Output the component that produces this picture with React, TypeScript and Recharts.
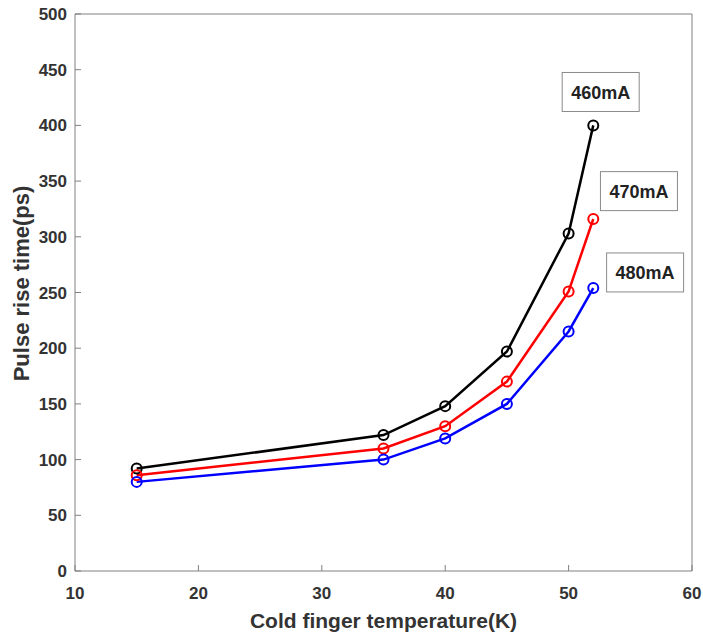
import React from 'react';
import { LineChart, Line, XAxis, YAxis, ReferenceDot } from 'recharts';

// cold finger temperature (K) and pulse rise time (ps) per bias current
const temps = [15, 35, 40, 45, 50, 52];
const rise460 = [92, 122, 148, 197, 303, 400];
const rise470 = [86, 110, 130, 170, 251, 316];
const rise480 = [80, 100, 119, 150, 215, 254];

const xTicks = [10, 20, 30, 40, 50, 60];
const yTicks = [0, 50, 100, 150, 200, 250, 300, 350, 400, 450, 500];

// current tags, anchored in data coordinates
const tagNames = ['460mA', '470mA', '480mA'];
const tagX = [52.6, 55.7, 56.2];
const tagY = [430, 341, 268];

const data = temps.map((t, i) => ({
	t,
	a: rise460[i],
	b: rise470[i],
	c: rise480[i],
}));

const FONT = '"Liberation Sans", Arial, sans-serif';
const AXIS = '#808080';
const INK = '#333333';

const tickStyle = { fontFamily: FONT, fontSize: 17, fontWeight: 700, fill: INK };

const TagBox = (props: any) => {
	const { cx, cy, value } = props;
	const w = 77;
	const h = 39;
	return (
		<g>
			<rect x={cx - w / 2} y={cy - h / 2} width={w} height={h} fill="#fff" stroke="#8a8a8a" strokeWidth={1} />
			<text
				x={cx}
				y={cy + 1}
				textAnchor="middle"
				dominantBaseline="central"
				fontFamily={FONT}
				fontSize={18}
				fontWeight={700}
				fill="#222"
			>
				{value}
			</text>
		</g>
	);
};

const YLabel = (props: any) => {
	const vb = props.viewBox || {};
	const cy = vb.y + vb.height / 2 - 9;
	return (
		<text
			x={21}
			y={cy}
			transform={`rotate(-90, 21, ${cy})`}
			textAnchor="middle"
			dominantBaseline="central"
			fontFamily={FONT}
			fontSize={22}
			fontWeight={700}
			fill={INK}
		>
			Pulse rise time(ps)
		</text>
	);
};

const series = [
	{ key: 'a', color: '#000000' },
	{ key: 'b', color: '#ff0000' },
	{ key: 'c', color: '#0000ff' },
];

export default function App() {
	return (
		<div style={{ position: 'absolute', left: 0, top: 0, background: '#fff' }}>
			<LineChart width={703} height={634} data={data} margin={{ top: 13, right: 10, bottom: 23, left: 0 }}>
				<XAxis
					dataKey="t"
					type="number"
					domain={[10, 60]}
					ticks={xTicks}
					allowDataOverflow
					height={40}
					tickSize={-6}
					tickMargin={22}
					stroke={AXIS}
					tick={tickStyle}
					label={{
						value: 'Cold finger temperature(K)',
						position: 'bottom',
						offset: 2,
						style: { fontFamily: FONT, fontSize: 21, fontWeight: 700, fill: INK },
					}}
				/>
				<XAxis
					xAxisId="top"
					orientation="top"
					dataKey="t"
					type="number"
					domain={[10, 60]}
					ticks={xTicks}
					height={1}
					tickSize={-6}
					stroke={AXIS}
					tick={false}
				/>
				<YAxis
					type="number"
					domain={[0, 500]}
					ticks={yTicks}
					allowDataOverflow
					width={75}
					tickSize={-6}
					tickMargin={14}
					stroke={AXIS}
					tick={tickStyle}
					label={{ content: YLabel }}
				/>
				<YAxis
					yAxisId="right"
					orientation="right"
					type="number"
					domain={[0, 500]}
					ticks={yTicks}
					width={1}
					tickSize={-6}
					stroke={AXIS}
					tick={false}
				/>
				{series.map((s) => (
					<Line
						key={s.key}
						dataKey={s.key}
						stroke={s.color}
						strokeWidth={2.5}
						dot={{ r: 5, fill: 'none', stroke: s.color, strokeWidth: 2 }}
						activeDot={false}
						isAnimationActive={false}
					/>
				))}
				{tagNames.map((name, i) => (
					<ReferenceDot
						key={name}
						x={tagX[i]}
						y={tagY[i]}
						r={0}
						ifOverflow="visible"
						shape={(p: any) => <TagBox {...p} value={name} />}
					/>
				))}
			</LineChart>
		</div>
	);
}
